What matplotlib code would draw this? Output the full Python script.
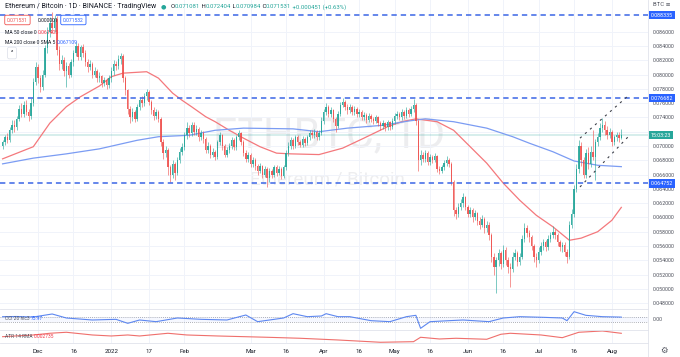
import numpy as np
import pandas as pd
import matplotlib
matplotlib.use("Agg")
import matplotlib.pyplot as plt
import matplotlib.dates as mdates
import matplotlib.transforms as mtransforms
from matplotlib.lines import Line2D

plt.rcParams['font.family'] = ['Roboto', 'DejaVu Sans']

W, H = 680, 357

# daily candles, prices in units of 0.0001 BTC, open = previous close
start = '2021-11-16'
first_open = 700
closes = [
    705, 712, 708, 722, 730, 726, 738, 752, 745, 758,
    748, 742, 760, 790, 810, 795, 782, 800, 837, 860,
    872, 865, 878, 835, 815, 820, 805, 812, 800, 818,
    830, 840, 825, 838, 830, 818, 810, 815, 800, 805,
    795, 798, 788, 792, 785, 795, 805, 815, 812, 822,
    826, 795, 778, 752, 740, 748, 738, 755, 765, 760,
    770, 776, 762, 750, 742, 748, 738, 705, 690, 695,
    670, 660, 675, 662, 680, 692, 698, 715, 725, 718,
    730, 720, 724, 712, 718, 710, 695, 700, 688, 692,
    685, 705, 715, 700, 688, 694, 700, 708, 698, 712,
    718, 706, 690, 682, 688, 675, 680, 672, 665, 672,
    660, 668, 655, 665, 660, 670, 662, 668, 658, 670,
    690, 700, 708, 700, 712, 705, 702, 710, 704, 712,
    718, 715, 720, 712, 718, 735, 748, 755, 745, 750,
    738, 728, 745, 758, 762, 755, 750, 755, 748, 752,
    745, 748, 740, 744, 736, 742, 738, 735, 740, 732,
    728, 732, 726, 733, 727, 735, 742, 745, 740, 748,
    742, 750, 745, 752, 758, 735, 680, 688, 682, 690,
    678, 685, 680, 686, 668, 665, 670, 676, 680, 675,
    650, 610, 605, 615, 620, 628, 615, 605, 610, 600,
    606, 595, 590, 598, 585, 590, 575, 545, 530, 540,
    550, 535, 555, 540, 530, 528, 545, 550, 538, 545,
    570, 585, 578, 572, 560, 545, 540, 552, 560, 565,
    558, 570, 575, 580, 575, 565, 558, 562, 552, 545,
    590, 605, 640, 668, 700, 680, 660, 690, 675, 692,
    685, 705, 712, 725, 730, 722, 715, 720, 705, 712,
    716, 710.81, 715.31]
highs = [
    709, 716, 718, 726, 736, 737, 742, 758, 760, 763,
    765, 752, 767, 795, 818, 815, 800, 806, 842, 866,
    880, 888, 884, 882, 840, 828, 824, 818, 816, 822,
    835, 846, 844, 842, 843, 834, 822, 820, 818, 810,
    808, 803, 800, 797, 795, 799, 810, 820, 819, 827,
    830, 829, 798, 780, 756, 753, 751, 759, 769, 770,
    774, 780, 778, 765, 754, 752, 751, 740, 710, 700,
    697, 674, 680, 678, 685, 697, 704, 720, 734, 730,
    733, 733, 729, 727, 722, 721, 713, 705, 703, 697,
    695, 709, 720, 717, 703, 699, 704, 712, 711, 716,
    722, 720, 708, 694, 692, 690, 684, 683, 675, 676,
    674, 672, 670, 669, 668, 674, 673, 672, 670, 674,
    694, 705, 713, 711, 716, 715, 709, 714, 713, 716,
    722, 722, 724, 723, 722, 740, 752, 760, 758, 754,
    752, 741, 749, 762, 767, 765, 759, 759, 758, 756,
    755, 752, 750, 748, 746, 746, 745, 741, 744, 742,
    735, 736, 734, 737, 735, 739, 746, 749, 748, 752,
    751, 754, 753, 756, 766, 760, 738, 695, 692, 694,
    693, 689, 688, 690, 688, 672, 674, 680, 686, 683,
    677, 652, 615, 620, 626, 634, 630, 618, 615, 613,
    611, 608, 600, 603, 600, 595, 593, 578, 550, 545,
    556, 553, 562, 558, 545, 536, 552, 556, 553, 550,
    575, 592, 590, 582, 576, 563, 550, 558, 565, 570,
    568, 575, 580, 588, 584, 578, 569, 566, 565, 556,
    595, 612, 646, 675, 708, 705, 685, 696, 698, 700,
    722, 710, 718, 732, 739, 735, 728, 725, 722, 716,
    720, 719, 724.04]
lows = [
    696, 701, 704, 705, 718, 720, 722, 735, 740, 741,
    744, 735, 738, 756, 785, 788, 775, 778, 796, 830,
    852, 858, 860, 828, 806, 808, 798, 783, 795, 796,
    812, 826, 820, 820, 825, 812, 804, 806, 795, 796,
    790, 790, 783, 784, 780, 781, 790, 800, 806, 808,
    815, 790, 772, 745, 732, 735, 733, 735, 750, 754,
    756, 764, 758, 745, 737, 738, 733, 700, 682, 684,
    660, 650, 655, 652, 659, 676, 688, 694, 710, 712,
    714, 715, 716, 707, 708, 704, 690, 690, 683, 684,
    680, 682, 702, 695, 684, 685, 690, 696, 694, 695,
    708, 702, 686, 677, 678, 670, 671, 667, 660, 662,
    655, 657, 643, 650, 655, 657, 658, 659, 654, 655,
    667, 686, 696, 696, 697, 701, 698, 699, 700, 701,
    708, 711, 711, 708, 709, 715, 731, 744, 741, 740,
    734, 720, 725, 742, 754, 750, 745, 746, 744, 744,
    741, 741, 736, 736, 732, 733, 734, 731, 732, 728,
    722, 724, 721, 723, 722, 724, 731, 738, 736, 737,
    738, 739, 741, 742, 748, 730, 665, 674, 677, 678,
    674, 674, 676, 677, 664, 661, 662, 667, 672, 670,
    645, 602, 598, 600, 610, 615, 610, 600, 600, 594,
    596, 590, 584, 586, 578, 580, 568, 538, 520, 494,
    532, 528, 530, 534, 522, 503, 524, 540, 532, 534,
    542, 565, 572, 566, 554, 538, 530, 536, 548, 555,
    553, 555, 566, 571, 570, 560, 553, 552, 546, 536,
    542, 585, 600, 635, 662, 672, 655, 655, 668, 670,
    680, 652, 700, 708, 720, 716, 710, 711, 700, 702,
    707, 706, 709.84]

# moving averages (units 0.0001), read at day offsets from start
ma50_day = [0, 13, 20, 27, 33, 41, 46, 51, 61, 66, 72, 76, 80, 86, 90, 96, 102, 109, 116, 122,
            134, 144, 153, 163, 169, 175, 184, 191, 198, 205, 212, 219, 223, 226, 233, 240, 245,
            252, 258, 262]
ma50 = [682, 699, 732, 755, 769, 784, 797, 802, 804, 795, 774, 764, 755, 741, 734, 722, 711, 699,
        690, 689, 688, 697, 711, 727, 734, 738, 734, 722, 699, 676, 648, 624, 612, 603, 587, 568,
        571, 580, 596, 614.05]
ma200_day = [0, 13, 27, 41, 57, 66, 79, 90, 102, 123, 134, 146, 161, 172, 179, 191, 205, 216,
             223, 233, 242, 252, 262]
ma200 = [675, 683, 689, 696, 708, 713, 715, 722, 725, 724, 720, 725, 729, 735, 738, 734, 725, 713,
         704, 692, 679, 673, 671.09]

# CCI 20 and ATR 14 (ATR in units of 0.001)
cci_day = [0, 6, 13, 21, 27, 38, 48, 53, 58, 65, 74, 84, 95, 103, 108, 119, 123, 129, 135, 137,
           142, 147, 156, 164, 171, 175, 177, 181, 189, 195, 206, 212, 219, 229, 237, 239, 242,
           247, 254, 262]
cci = [93, 100, 80, 200, 40, -40, -13, -173, -40, -107, 40, -13, -40, 160, -107, 40, 213, 93, 120,
       213, 93, 93, -67, -107, 93, 147, -373, -107, -67, -40, -107, 40, 93, 67, 40, -67, 293, 147,
       93, 75.97]
atr_day = [0, 13, 20, 27, 38, 46, 53, 58, 70, 78, 91, 112, 126, 142, 160, 174, 177, 185, 192,
           205, 211, 215, 228, 237, 244, 254, 262]
atr = [2.16, 2.45, 2.74, 2.91, 2.45, 2.28, 2.45, 2.28, 2.74, 2.45, 2.28, 2.06, 1.89, 1.60, 1.21,
       1.31, 2.06, 1.77, 1.89, 1.72, 2.57, 2.74, 2.45, 1.99, 2.91, 3.13, 2.735]

# drawn levels and channel
levels = [0.088335, 0.076682, 0.064752]
last_price = 0.071531
ch_day = [244.5, 264.8]
ch_upper = [711, 770]
ch_lower = [642.7, 712.6]

tick_dates = ['2021-12-01', '2021-12-16', '2022-01-01', '2022-01-17', '2022-02-01', '2022-03-01',
              '2022-03-16', '2022-04-01', '2022-04-16', '2022-05-01', '2022-05-16', '2022-06-01',
              '2022-06-16', '2022-07-01', '2022-07-16', '2022-08-01']
tick_labels = ['Dec', '16', '2022', '17', 'Feb', 'Mar', '16', 'Apr', '16', 'May', '16', 'Jun',
               '16', 'Jul', '16', 'Aug']

UP, DOWN = '#26a69a', '#ef5350'
GRID = '#f0f3fa'
TXT = '#131722'

fig = plt.figure(figsize=(W / 100, H / 100), dpi=100)
pr = 648 / W


def pane(top, bottom):
    return fig.add_axes([0, 1 - bottom / H, pr, (bottom - top) / H])


ax = pane(0, 309)
ax_cci = pane(309, 330)
ax_atr = pane(330, 343)

x = mdates.date2num(pd.date_range(start, periods=len(closes), freq='D'))
x0 = x[0]
c = np.array(closes) * 1e-4
o = np.r_[first_open, closes[:-1]] * 1e-4
hi = np.array(highs) * 1e-4
lo = np.array(lows) * 1e-4
col = np.where(c >= o, UP, DOWN)

ax.vlines(x, lo, hi, colors=col, lw=0.5, alpha=0.85, zorder=3)
ax.bar(x, np.maximum(np.abs(c - o), 0.00003), bottom=np.minimum(o, c), width=0.6,
       color=col, linewidth=0, alpha=0.9, zorder=4)

ax.plot(x0 + np.array(ma50_day), np.array(ma50) * 1e-4, color='#f4787c', lw=0.9, zorder=2)
ax.plot(x0 + np.array(ma200_day), np.array(ma200) * 1e-4, color='#7b9cf3', lw=0.9, zorder=2)

for lv in levels:
    ax.axhline(lv, color='#3b66e6', lw=1.1, dashes=(3.5, 2.6), zorder=5)
ax.axhline(last_price, color='#26a69a', alpha=0.22, lw=1.2, zorder=1)

for ys in (ch_upper, ch_lower):
    ax.plot(x0 + np.array(ch_day), np.array(ys) * 1e-4, color='#3c3f48', lw=0.8,
            dashes=(2, 4), zorder=6)

ax.text(0.508, 0.562, 'ETHBTC, 1D', transform=ax.transAxes, ha='center', va='center',
        fontsize=31, color='#787b86', alpha=0.13, zorder=0)
ax.text(0.505, 0.42, 'Ethereum / Bitcoin', transform=ax.transAxes, ha='center', va='center',
        fontsize=13.5, color='#787b86', alpha=0.13, zorder=0)

xmin, xmax = x0 - 1.1, x0 + 273.3
ticks = mdates.date2num(pd.to_datetime(tick_dates))
for a in (ax, ax_cci, ax_atr):
    a.set_xlim(xmin, xmax)
    a.set_xticks(ticks)
    a.grid(True, color=GRID, lw=0.7, zorder=0)
    a.set_axisbelow(True)
    for s in a.spines.values():
        s.set_visible(False)
    a.tick_params(length=0)
    a.set_facecolor('none')

ax.set_ylim(0.04718, 0.09044)
ax.set_yticks(np.arange(0.048, 0.0861, 0.002))
ax.yaxis.tick_right()
# the 0.072000 label sits under the last-price tag, as on the platform
ax.yaxis.set_major_formatter(matplotlib.ticker.FuncFormatter(
    lambda v, p: '' if abs(v - 0.072) < 1e-6 else f'{v:.6f}'))
ax.tick_params(axis='y', pad=3.5, labelsize=3.9, labelcolor='#50535e')
ax.tick_params(axis='x', labelbottom=False)

ax_cci.set_ylim(-440, 400)
ax_cci.axhspan(-100, 100, color='#2962ff', alpha=0.04, lw=0)
for lv in (-100, 100):
    ax_cci.axhline(lv, color='#9598a1', lw=0.6, linestyle=(0, (1, 1.5)))
ax_cci.plot(x0 + np.array(cci_day), cci, color='#5d87f0', lw=0.8)
ax_cci.set_yticks([0])
ax_cci.yaxis.tick_right()
ax_cci.set_yticklabels(['0.00'])
ax_cci.tick_params(axis='y', pad=3.5, labelsize=3.9, labelcolor='#50535e')
ax_cci.yaxis.grid(False)
ax_cci.tick_params(axis='x', labelbottom=False)

ax_atr.set_ylim(1.086, 3.296)
ax_atr.plot(x0 + np.array(atr_day), atr, color='#ef6f6c', lw=0.8)
ax_atr.set_yticks([])
ax_atr.set_xticklabels(tick_labels)
ax_atr.tick_params(axis='x', pad=4, labelsize=4.4, labelcolor=TXT)

# pane separators and price-scale border
for yy in (309, 330, 343):
    fig.add_artist(Line2D([0, pr], [1 - yy / H] * 2, color='#e0e3eb', lw=0.6))
fig.add_artist(Line2D([pr, pr], [0, 1], color='#e0e3eb', lw=0.6))

rend = fig.canvas.get_renderer()
pix = mtransforms.IdentityTransform()


def put(px, py, s, **kw):
    kw.setdefault('fontsize', 4.5)
    return fig.text(px, H - py, s, transform=pix, va='center', **kw)


def row(px, py, parts, size=4.5):
    for s, cl in parts:
        t = put(px, py, s, color=cl, fontsize=size)
        px += t.get_window_extent(rend).width
    return px


# header legend
end = row(5, 7, [('Ethereum / Bitcoin · 1D · BINANCE · TradingView', TXT)], 5.0)
put(end + 7, 7, '●', color=UP, fontsize=4.5, ha='center')
G = '#26a69a'
row(end + 14, 7, [('O', TXT), ('0.071081', G), (' H', TXT), ('0.072404', G), (' L', TXT),
                  ('0.070984', G), (' C', TXT), ('0.071531', G), (' +0.000451 (+0.63%)', G)], 4.3)
box = dict(boxstyle='round,pad=0.45,rounding_size=0.3', fc='white', lw=0.6)
put(7, 20, '0.071531', color=DOWN, fontsize=3.6, bbox=dict(box, ec=DOWN))
put(38, 20, '0.000001', color=TXT, fontsize=3.6)
put(63, 20, '0.071532', color='#2962ff', fontsize=3.6, bbox=dict(box, ec='#2962ff'))
row(5, 33, [('MA 50 close 0 ', TXT), ('0.061405', '#f23645')], 3.6)
row(5, 43, [('MA 200 close 0 SMA 5 ', TXT), ('0.067109', '#2962ff')], 3.6)
put(12, 53, '^', color=TXT, fontsize=4, ha='center',
    bbox=dict(boxstyle='round,pad=0.6,rounding_size=0.3', fc='white', ec='#e0e3eb', lw=0.6))

row(5, 318, [('CCI 20 hlc3 ', '#50535e'), ('75.97', '#2962ff')], 3.5)
row(5, 336, [('ATR 14 RMA ', '#50535e'), ('0.002735', '#f23645')], 3.5)

# price-scale labels
for lv in levels:
    yd = ax.transData.transform((x0, lv))[1]
    fig.text(651, yd, f'{lv:.6f}', transform=pix, va='center', color='white', fontsize=3.9,
             bbox=dict(boxstyle='square,pad=0.3', fc='#2962ff', ec='none'))
yd = ax.transData.transform((x0, last_price))[1]
fig.text(651, yd, '15:03:23', transform=pix, va='center', color='white', fontsize=3.9,
         bbox=dict(boxstyle='square,pad=0.3', fc='#26a69a', ec='none'))
put(653, 5, 'BTC ≡', color='#50535e', fontsize=4.2)
put(664, 350, '⚙', color='#50535e', fontsize=6, ha='center', family='DejaVu Sans')

fig.savefig('out.png', dpi=100)
